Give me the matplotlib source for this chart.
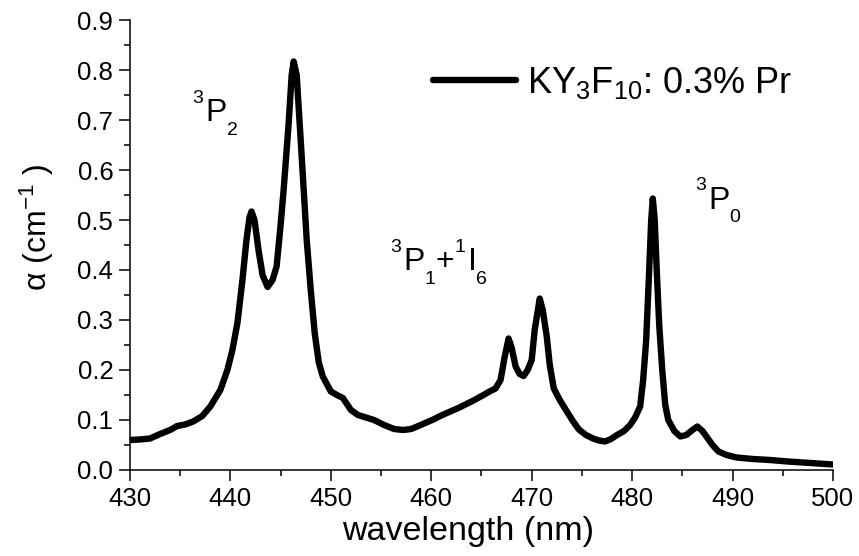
import matplotlib
matplotlib.use('Agg')
import matplotlib.pyplot as plt
from matplotlib.ticker import MultipleLocator, FormatStrFormatter
from matplotlib.transforms import offset_copy

plt.rcParams['font.family'] = ['Liberation Sans', 'DejaVu Sans']
plt.rcParams['mathtext.fontset'] = 'custom'
plt.rcParams['mathtext.rm'] = 'Liberation Sans'
plt.rcParams['mathtext.it'] = 'Liberation Sans'
plt.rcParams['mathtext.default'] = 'regular'

# absorption spectrum
wavelength = [430.0, 431.0, 432.0, 433.0, 434.0, 434.7, 435.5, 436.3, 437.2, 438.0,
              439.0, 439.7, 440.2, 440.7, 441.2, 441.6, 441.9, 442.1, 442.4, 442.8,
              443.2, 443.7, 444.2, 444.6, 445.0, 445.3, 445.8, 446.1, 446.3, 446.6,
              447.0, 447.6, 448.0, 448.4, 448.8, 449.2, 450.0, 450.6, 451.2, 452.0,
              452.7, 453.5, 454.3, 455.3, 456.3, 457.2, 458.0, 458.6, 459.4, 460.2,
              461.0, 461.9, 462.7, 463.5, 464.3, 465.2, 465.8, 466.4, 466.9, 467.3,
              467.7, 468.0, 468.4, 468.8, 469.2, 469.6, 470.0, 470.3, 470.8, 471.1,
              471.5, 471.8, 472.2, 472.8, 473.5, 474.1, 474.7, 475.4, 476.1, 476.7,
              477.3, 477.9, 478.5, 479.2, 479.8, 480.3, 480.8, 481.1, 481.4, 481.7,
              481.9, 482.06, 482.25, 482.45, 482.7, 483.0, 483.3, 483.6, 484.2, 484.8,
              485.4, 486.0, 486.5, 487.0, 487.4, 488.0, 488.6, 489.4, 490.4, 492.0,
              493.7, 495.5, 497.0, 498.5, 500.0]
alpha = [0.060, 0.061, 0.063, 0.072, 0.080, 0.088, 0.091, 0.097, 0.108, 0.127,
         0.160, 0.200, 0.240, 0.294, 0.380, 0.460, 0.505, 0.517, 0.500, 0.440,
         0.390, 0.366, 0.380, 0.407, 0.490, 0.560, 0.693, 0.790, 0.817, 0.790,
         0.660, 0.460, 0.360, 0.273, 0.215, 0.187, 0.157, 0.150, 0.144, 0.120,
         0.110, 0.105, 0.100, 0.090, 0.082, 0.080, 0.082, 0.087, 0.094, 0.101,
         0.109, 0.117, 0.124, 0.132, 0.140, 0.150, 0.157, 0.163, 0.180, 0.225,
         0.263, 0.245, 0.207, 0.192, 0.188, 0.200, 0.220, 0.280, 0.343, 0.320,
         0.267, 0.210, 0.163, 0.140, 0.117, 0.098, 0.081, 0.070, 0.063, 0.059,
         0.057, 0.062, 0.070, 0.078, 0.090, 0.105, 0.127, 0.180, 0.260, 0.400,
         0.500, 0.543, 0.500, 0.400, 0.290, 0.200, 0.130, 0.100, 0.078, 0.067,
         0.070, 0.080, 0.087, 0.078, 0.067, 0.050, 0.037, 0.030, 0.025, 0.022,
         0.020, 0.017, 0.015, 0.013, 0.011]

# transition labels, written piece by piece (text, kind)
term_3p2 = [('3', 'sup'), ('P', 'main'), ('2', 'sub')]
term_3p1 = [('3', 'sup'), ('P', 'main'), ('1', 'sub'), ('+', 'main'),
            ('1', 'sup'), ('I', 'main'), ('6', 'sub')]
term_3p0 = [('3', 'sup'), ('P', 'main'), ('0', 'sub')]
terms = [term_3p2, term_3p1, term_3p0]
term_x = [436.2, 455.9, 486.3]
term_y = [0.698, 0.40, 0.523]

fig = plt.figure(figsize=(8.59, 5.56), dpi=100)
ax = fig.add_axes([0.1513, 0.1547, 0.8184, 0.8093])

ax.plot(wavelength, alpha, color='black', linewidth=4.6, solid_capstyle='round',
        solid_joinstyle='round', label='KY$_{3}$F$_{10}$: 0.3% Pr')

ax.set_xlim(430, 500)
ax.set_ylim(0, 0.9)

renderer = fig.canvas.get_renderer()
size = {'main': 23, 'sup': 14, 'sub': 14}
rise = {'main': 0, 'sup': 13, 'sub': -10}
gap = {'main': 0, 'sup': 1.5, 'sub': 0.5}
for pieces, tx, ty in zip(terms, term_x, term_y):
    dx = 0.0
    for txt, kind in pieces:
        tr = offset_copy(ax.transData, fig=fig, x=dx, y=rise[kind], units='points')
        t = ax.text(tx, ty, txt, fontsize=size[kind], transform=tr,
                    ha='left', va='baseline')
        dx += t.get_window_extent(renderer).width * 72 / fig.dpi + gap[kind]

ax.xaxis.set_major_locator(MultipleLocator(10))
ax.xaxis.set_minor_locator(MultipleLocator(5))
ax.yaxis.set_major_locator(MultipleLocator(0.1))
ax.yaxis.set_minor_locator(MultipleLocator(0.05))
ax.yaxis.set_major_formatter(FormatStrFormatter('%.1f'))

for s in ['top', 'right']:
    ax.spines[s].set_visible(False)
for s in ['left', 'bottom']:
    ax.spines[s].set_linewidth(1.1)

ax.tick_params(which='major', direction='out', length=8, width=1.1, labelsize=18.5, pad=4)
ax.tick_params(which='minor', direction='out', length=4.5, width=1.1)

ax.set_xlabel('wavelength (nm)', fontsize=24.5)
ax.xaxis.set_label_coords(0.481, -0.102)
ax.set_ylabel('α (cm$^{-1}$ )', fontsize=23)
ax.yaxis.set_label_coords(-0.105, 0.538)

ax.legend(loc='center left', bbox_to_anchor=(0.431, 0.861), frameon=False,
          fontsize=26, handlelength=2.3, handletextpad=0.3, borderpad=0,
          borderaxespad=0)

plt.savefig('out.png', dpi=100)
